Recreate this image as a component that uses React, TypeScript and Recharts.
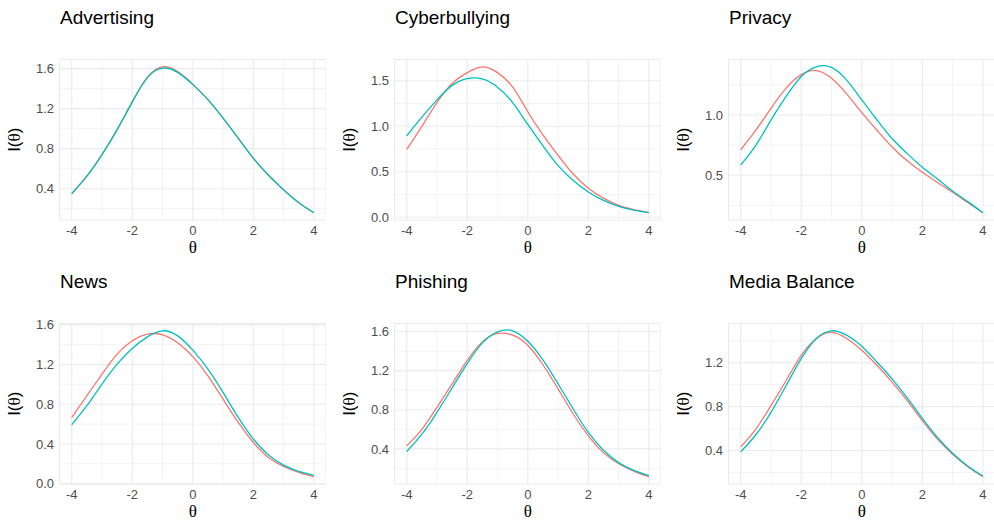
import { CartesianGrid, Label, Line, LineChart, XAxis, YAxis } from "recharts";

// theta grid shared by every panel
const THETA = [-4, -3.5, -3, -2.5, -2, -1.5, -1, -0.5, 0, 0.5, 1, 1.5, 2, 2.5, 3, 3.5, 4];
const X_TICKS = [-4, -2, 0, 2, 4];
const X_MINOR = [-3, -1, 1, 3];

const advertisingA = [0.35, 0.525, 0.74, 0.99, 1.27, 1.515, 1.618, 1.57, 1.445, 1.29, 1.105, 0.905, 0.705, 0.535, 0.39, 0.26, 0.16];
const advertisingB = [0.35, 0.525, 0.74, 0.99, 1.265, 1.51, 1.605, 1.562, 1.44, 1.29, 1.105, 0.905, 0.705, 0.535, 0.39, 0.26, 0.16];

const cyberA = [0.745, 1.0, 1.26, 1.47, 1.59, 1.654, 1.59, 1.43, 1.16, 0.905, 0.68, 0.475, 0.32, 0.21, 0.13, 0.085, 0.05];
const cyberB = [0.896, 1.1, 1.29, 1.45, 1.525, 1.52, 1.43, 1.26, 1.02, 0.785, 0.567, 0.405, 0.278, 0.185, 0.12, 0.078, 0.05];

const privacyA = [0.712, 0.874, 1.056, 1.223, 1.335, 1.369, 1.305, 1.175, 1.02, 0.874, 0.735, 0.62, 0.525, 0.44, 0.36, 0.274, 0.19];
const privacyB = [0.587, 0.749, 0.958, 1.154, 1.32, 1.4, 1.395, 1.29, 1.125, 0.96, 0.805, 0.68, 0.567, 0.47, 0.37, 0.282, 0.19];

const newsA = [0.667, 0.885, 1.103, 1.305, 1.44, 1.506, 1.5, 1.42, 1.28, 1.087, 0.852, 0.617, 0.415, 0.264, 0.174, 0.113, 0.07];
const newsB = [0.593, 0.785, 1.003, 1.204, 1.362, 1.479, 1.54, 1.489, 1.345, 1.154, 0.919, 0.667, 0.449, 0.288, 0.187, 0.123, 0.083];

const phishingA = [0.431, 0.6, 0.825, 1.065, 1.305, 1.494, 1.58, 1.562, 1.46, 1.26, 1.014, 0.757, 0.534, 0.362, 0.249, 0.174, 0.116];
const phishingB = [0.373, 0.551, 0.774, 1.024, 1.271, 1.483, 1.597, 1.607, 1.5, 1.31, 1.065, 0.808, 0.568, 0.386, 0.26, 0.181, 0.126];

const mediaA = [0.434, 0.595, 0.809, 1.038, 1.267, 1.42, 1.475, 1.42, 1.313, 1.176, 1.023, 0.855, 0.672, 0.504, 0.366, 0.253, 0.162];
const mediaB = [0.388, 0.544, 0.748, 0.992, 1.237, 1.42, 1.49, 1.45, 1.35, 1.206, 1.053, 0.879, 0.693, 0.519, 0.376, 0.26, 0.168];

const RED = "#F8766D";
const TEAL = "#00BFC4";
const GRID = "#ebebeb";
const SANS = "'Liberation Sans', Arial, sans-serif";
const SERIF = "'Liberation Serif', 'DejaVu Serif', serif";

const CELL_W = 326;
const CELL_H = 258;

function XTitle({ viewBox }: any) {
  const { x, y, width } = viewBox;
  return (
    <text x={x + width / 2} y={y + 33} textAnchor="middle" fontSize={17} fontFamily={SERIF} fill="#000">
      θ
    </text>
  );
}

function YTitle({ viewBox }: any) {
  const { x, y, height } = viewBox;
  const cx = x + 14;
  const cy = y + height / 2;
  return (
    <text
      x={cx}
      y={cy}
      transform={`rotate(-90 ${cx} ${cy})`}
      textAnchor="middle"
      dominantBaseline="central"
      fontSize={17}
      fontFamily={SANS}
      fill="#000"
    >
      I(<tspan fontFamily={SERIF}>θ</tspan>)
    </text>
  );
}

type PanelProps = {
  title: string;
  a: number[];
  b: number[];
  yTicks: number[];
  yMinor: number[];
  left: number;
  top: number;
};

function Panel({ title, a, b, yTicks, yMinor, left, top }: PanelProps) {
  const data = THETA.map((t, i) => ({ theta: t, a: a[i], b: b[i] }));
  // ggplot-style 5% expansion on the y range
  const all = [...a, ...b];
  const lo = Math.min(...all);
  const hi = Math.max(...all);
  const pad = (hi - lo) * 0.05;
  const tick = { fontSize: 13, fill: "#4d4d4d", fontFamily: SANS };

  return (
    <div style={{ position: "absolute", left, top, width: CELL_W, height: CELL_H }}>
      <div
        style={{
          position: "absolute",
          left: 60,
          top: 8,
          fontSize: 19,
          lineHeight: "19px",
          fontFamily: SANS,
          color: "#000",
          whiteSpace: "nowrap",
        }}
      >
        {title}
      </div>
      <LineChart width={CELL_W} height={CELL_H} data={data} margin={{ top: 59.5, right: 0, bottom: 0, left: 0 }}>
        <CartesianGrid stroke={GRID} strokeWidth={0.6} horizontalValues={yMinor} verticalValues={X_MINOR} />
        <CartesianGrid stroke={GRID} strokeWidth={1.1} />
        <XAxis
          dataKey="theta"
          type="number"
          domain={[-4.4, 4.4]}
          ticks={X_TICKS}
          allowDataOverflow
          axisLine={false}
          tickLine={false}
          tickSize={0}
          tickMargin={6}
          height={38}
          tick={tick}
        >
          <Label content={XTitle} />
        </XAxis>
        <YAxis
          type="number"
          domain={[lo - pad, hi + pad]}
          ticks={yTicks}
          allowDataOverflow
          axisLine={false}
          tickLine={false}
          tickSize={0}
          tickMargin={5.5}
          width={59.6}
          tick={tick}
          tickFormatter={(v: number) => v.toFixed(1)}
        >
          <Label content={YTitle} />
        </YAxis>
        <Line type="natural" dataKey="a" stroke={RED} strokeWidth={1.3} dot={false} isAnimationActive={false} />
        <Line type="natural" dataKey="b" stroke={TEAL} strokeWidth={1.3} dot={false} isAnimationActive={false} />
      </LineChart>
    </div>
  );
}

export default function App() {
  return (
    <div style={{ position: "absolute", left: 0, top: 0, width: 994, height: 523, background: "#fff", overflow: "hidden" }}>
      <Panel title="Advertising" a={advertisingA} b={advertisingB} yTicks={[0.4, 0.8, 1.2, 1.6]} yMinor={[0.2, 0.6, 1.0, 1.4]} left={0} top={0} />
      <Panel title="Cyberbullying" a={cyberA} b={cyberB} yTicks={[0, 0.5, 1.0, 1.5]} yMinor={[0.25, 0.75, 1.25]} left={335} top={0} />
      <Panel title="Privacy" a={privacyA} b={privacyB} yTicks={[0.5, 1.0]} yMinor={[0.25, 0.75, 1.25]} left={669} top={0} />
      <Panel title="News" a={newsA} b={newsB} yTicks={[0, 0.4, 0.8, 1.2, 1.6]} yMinor={[0.2, 0.6, 1.0, 1.4]} left={0} top={264} />
      <Panel title="Phishing" a={phishingA} b={phishingB} yTicks={[0.4, 0.8, 1.2, 1.6]} yMinor={[0.2, 0.6, 1.0, 1.4]} left={335} top={264} />
      <Panel title="Media Balance" a={mediaA} b={mediaB} yTicks={[0.4, 0.8, 1.2]} yMinor={[0.2, 0.6, 1.0, 1.4]} left={669} top={264} />
    </div>
  );
}
